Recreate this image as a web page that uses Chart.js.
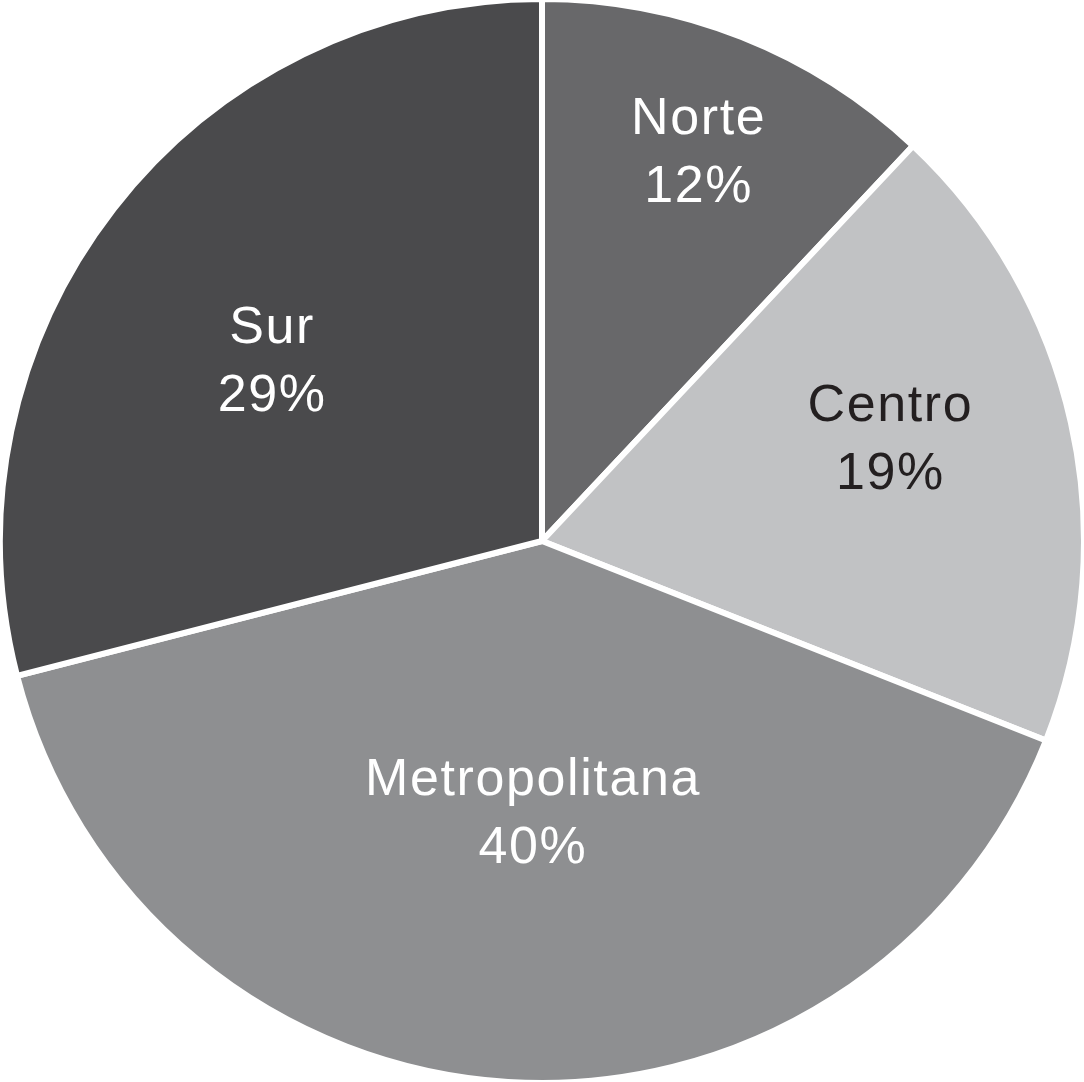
<!DOCTYPE html>
<html>
<head>
<meta charset="utf-8">
<script src="https://cdn.jsdelivr.net/npm/chart.js@4/dist/chart.umd.min.js"></script>
<style>
  html, body { margin: 0; padding: 0; background: #fff; overflow: hidden; }
  #wrap { width: 1084px; height: 1082px; overflow: hidden; }
  #pieChart { display: block; margin: -4px 0 0 -4px; }
</style>
</head>
<body>
<div id="wrap"><canvas id="pieChart" width="1092" height="1090"></canvas></div>
<script>
const regions = ['Norte', 'Centro', 'Metropolitana', 'Sur'];
const shares = [12, 19, 40, 29];
const sliceColors = ['#68686a', '#c1c2c4', '#8e8f91', '#4a4a4c'];
const textColors = ['#ffffff', '#231f20', '#ffffff', '#ffffff'];
// where each label sits: angle (deg, clockwise from top) and share of radius
const labelSpots = [[21.9, 0.775], [73.6, 0.67], [181.9, 0.5], [303.9, 0.6]];

const labelPlugin = {
  id: 'sliceLabels',
  afterDatasetsDraw(chart) {
    const ctx = chart.ctx;
    const arcs = chart.getDatasetMeta(0).data;
    ctx.save();
    ctx.font = '52px "Liberation Sans", Arial, sans-serif';
    ctx.letterSpacing = '1.6px';
    ctx.textAlign = 'center';
    ctx.textBaseline = 'alphabetic';
    arcs.forEach((arc, i) => {
      const a = labelSpots[i][0] * Math.PI / 180;
      const r = arc.outerRadius * labelSpots[i][1];
      const cx = arc.x + Math.sin(a) * r;
      const cy = arc.y - Math.cos(a) * r;
      ctx.fillStyle = textColors[i];
      ctx.fillText(regions[i], cx, cy - 17);
      ctx.fillText(shares[i] + '%', cx, cy + 51);
    });
    ctx.restore();
  }
};

new Chart(document.getElementById('pieChart'), {
  type: 'pie',
  data: {
    labels: regions,
    datasets: [{
      data: shares,
      backgroundColor: sliceColors,
      borderColor: '#ffffff',
      borderWidth: 6,
    }],
  },
  options: {
    responsive: false,
    animation: false,
    layout: { padding: 0 },
    plugins: {
      legend: { display: false },
      tooltip: { enabled: false },
    },
  },
  plugins: [labelPlugin],
});
</script>
</body>
</html>
